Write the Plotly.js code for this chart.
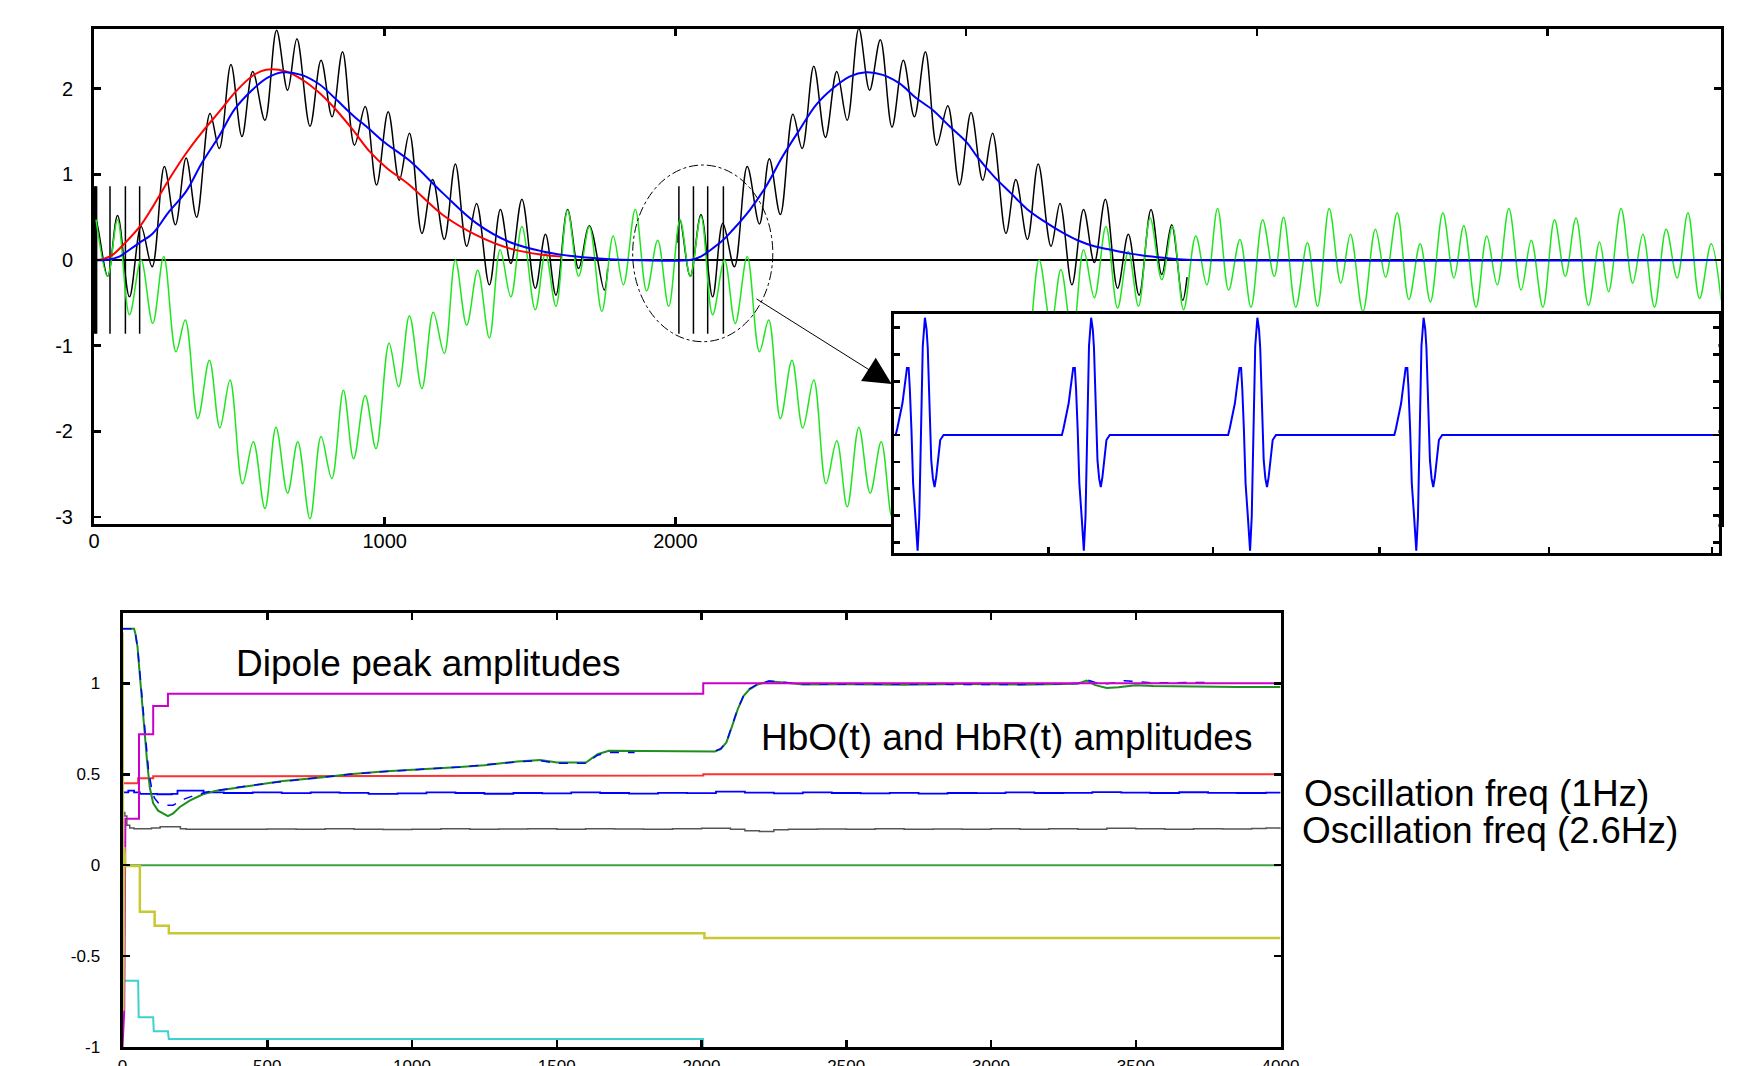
<!DOCTYPE html>
<html>
<head>
<meta charset="utf-8">
<script src="https://cdn.plot.ly/plotly-3.0.1.min.js"></script>
<style>html,body{margin:0;padding:0;background:#fff;}#chart{width:1760px;height:1066px;}</style>
</head>
<body>
<div id="chart"></div>
<script>
// ---------------- TOP PANEL: simulated signals ----------------
// black: measured signal (HbO + oscillations), read peak/trough values
const blackX = [0,7,47,81,122,162,200,242,280,317,353,399,431,471,509,546,588,628,666,698,743,781,819,855,896,933,972,1012,1050,1085,1128,1165,1205,1243,1282,1316,1360,1398,1434,1472,1518,1553,1589,1629,1667,1704,1755,1767,
  null,
  2005,2016,2051,2088,2128,2163,2203,2247,2289,2323,2361,2404,2436,2476,2516,2555,2591,2631,2668,2705,2745,2784,2822,2860,2899,2937,2977,3017,3057,3091,3137,3171,3211,3248,3292,3323,3364,3404,3441,3479,3521,3558,3595,3636,3673,3707,3745,3760];
const blackY = [0.1,0.47,-0.19,0.52,-0.43,0.39,-0.08,1.09,0.41,1.19,0.50,1.71,1.30,2.28,1.44,2.20,1.63,2.68,1.98,2.58,1.56,2.33,1.67,2.43,1.34,1.79,0.875,1.73,0.93,1.48,0.31,0.94,0.24,1.12,0.16,0.66,-0.29,0.59,-0.04,0.71,-0.33,0.30,-0.41,0.59,-0.10,0.40,-0.35,-0.1,
  null,
  0.2,0.47,-0.19,0.53,-0.43,0.43,-0.08,1.09,0.42,1.18,0.53,1.70,1.30,2.26,1.43,2.20,1.63,2.70,1.98,2.57,1.55,2.33,1.67,2.43,1.34,1.80,0.875,1.72,0.93,1.48,0.31,0.94,0.24,1.12,0.16,0.66,-0.29,0.59,-0.03,0.71,-0.33,0.30,-0.41,0.59,-0.17,0.41,-0.47,-0.2];
// dipole spikes in the black signal
const spikeX = [2,5,9,55,108,157,2012,2062,2111,2165];
const spikeLow = -0.86, spikeHigh = 0.86;

// green: HbR-like signal with oscillations
const greenX = [7,47,81,122,162,202,240,282,314,357,397,433,468,511,548,588,626,666,701,743,781,818,858,893,933,970,1015,1048,1085,1128,1167,1205,1243,1282,1320,1360,1397,1434,1472,1518,1553,1589,1629,1667,1704,1747,1786,1821,1862,1901,1939,1977,
  2016,2051,2088,2128,2169,2206,2247,2289,2321,2361,2401,2438,2476,2518,2555,2591,2631,2670,2708,2745,2783,2820,2860,2895,2935,2972,3017,3050,3087,3130,3169,3208,
  3251,3292,3326,3366,3404,3441,3481,3521,3558,3593,3633,3673,3710,3748,3790,3828,3865,3903,3942,3980,4020,4060,4092,4134,4174,4209,4249,4289,4322,
  4365,4408,4443,4483,4523,4562,4597,4640,4678,4712,4754,4791,4827,4867,4909,4944,4984,5024,5061,5098,5141,5179,5210,5253,5293,5328,5368,5408,5446,5483,5523,5563,5597];
const greenY = [0.47,-0.19,0.47,-0.64,0.0,-0.74,0.04,-1.07,-0.70,-1.85,-1.17,-1.96,-1.40,-2.61,-2.12,-2.90,-1.95,-2.72,-2.12,-3.02,-2.06,-2.55,-1.52,-2.32,-1.58,-2.20,-0.97,-1.48,-0.65,-1.50,-0.61,-1.09,0.0,-0.76,-0.12,-0.91,0.12,-0.43,0.39,-0.58,0.08,-0.54,0.58,-0.19,0.39,-0.60,0.28,-0.29,0.59,-0.36,0.23,-0.54,
  0.47,-0.19,0.51,-0.64,0.0,-0.74,0.04,-1.07,-0.70,-1.85,-1.17,-1.96,-1.40,-2.61,-2.11,-2.88,-1.95,-2.72,-2.12,-3.0,-2.06,-2.55,-1.52,-2.32,-1.58,-2.20,-0.97,-1.48,-0.65,-1.50,-0.61,-1.09,
  0.0,-0.76,-0.11,-0.91,0.12,-0.44,0.39,-0.56,0.10,-0.54,0.49,-0.23,0.39,-0.58,0.28,-0.29,0.60,-0.35,0.24,-0.55,0.47,-0.19,0.50,-0.55,0.20,-0.54,0.60,-0.27,0.30,
  -0.6,0.36,-0.2,0.55,-0.46,0.19,-0.49,0.55,-0.21,0.40,-0.55,0.28,-0.29,0.60,-0.35,0.23,-0.55,0.47,-0.19,0.49,-0.53,0.21,-0.37,0.60,-0.27,0.30,-0.55,0.36,-0.21,0.55,-0.45,0.19,-0.47];

// red: first hemodynamic response
const redX = [0,30,60,110,160,202,260,317,374,431,489,546,592,661,718,775,833,890,947,1005,1085,1200,1315,1429,1544,1607];
const redY = [0,0.01,0.05,0.21,0.4,0.62,0.95,1.245,1.5,1.73,1.97,2.15,2.22,2.2,2.1,1.95,1.75,1.52,1.27,1.08,0.875,0.525,0.29,0.136,0.06,0.04];

// blue: estimated HbO response
const blueX = [0,41,87,122,156,202,255,317,369,431,484,546,599,649,713,775,828,890,943,1000,1085,1200,1315,1429,1544,1659,1774,1850,2050,2087,2122,2163,2197,2255,2312,2369,2427,2484,2541,2599,2656,2713,2771,2828,2885,2943,3000,3039,3097,3154,3211,3269,3326,3383,3441,3498,3555,3613,3670,3727,3785,5595];
const blueY = [0,0,0.04,0.12,0.2,0.31,0.55,0.8,1.12,1.45,1.76,1.99,2.13,2.19,2.16,2.05,1.89,1.69,1.54,1.37,1.16,0.78,0.43,0.21,0.1,0.04,0.01,0,0,0.04,0.12,0.23,0.35,0.58,0.86,1.21,1.52,1.81,2.0,2.14,2.19,2.16,2.06,1.89,1.75,1.56,1.38,1.2,0.97,0.78,0.59,0.45,0.33,0.23,0.16,0.12,0.08,0.05,0.03,0.01,0,0];
const topYTicks = [-3,-2,-1,0,1,2];
const topYText = ['-3','-2','-1','0','1','2'];

// inset: dipole waveform (4 spikes)
const insetX = [0,0.010,0.041,0.051,0.068,0.078,0.085,0.095,0.105,0.119,0.132,0.142,0.153,0.163,0.176,0.186,0.193,0.203,0.214,0.224,0.234,0.244,0.254,0.268,0.288,
  1.000,1.010,1.041,1.051,1.068,1.078,1.085,1.095,1.105,1.119,1.132,1.142,1.153,1.163,1.176,1.186,1.193,1.203,1.214,1.224,1.234,1.244,1.254,1.268,1.288,
  2.000,2.010,2.041,2.051,2.068,2.078,2.085,2.095,2.105,2.119,2.132,2.142,2.153,2.163,2.176,2.186,2.193,2.203,2.214,2.224,2.234,2.244,2.254,2.268,2.288,
  3.000,3.010,3.041,3.051,3.068,3.078,3.085,3.095,3.105,3.119,3.132,3.142,3.153,3.163,3.176,3.186,3.193,3.203,3.214,3.224,3.234,3.244,3.254,3.268,3.288,
  4.95];
const insetY = [0,0.25,1.19,1.69,2.5,2.5,1.75,0.19,-1.81,-3.06,-4.31,-3.06,1.06,3.31,4.37,3.93,3.25,1.06,-0.94,-1.62,-1.94,-1.56,-0.94,-0.19,0,
  0,0.25,1.19,1.69,2.5,2.5,1.75,0.19,-1.81,-3.06,-4.31,-3.06,1.06,3.31,4.37,3.93,3.25,1.06,-0.94,-1.62,-1.94,-1.56,-0.94,-0.19,0,
  0,0.25,1.19,1.69,2.5,2.5,1.75,0.19,-1.81,-3.06,-4.31,-3.06,1.06,3.31,4.37,3.93,3.25,1.06,-0.94,-1.62,-1.94,-1.56,-0.94,-0.19,0,
  0,0.25,1.19,1.69,2.5,2.5,1.75,0.19,-1.81,-3.06,-4.31,-3.06,1.06,3.31,4.37,3.93,3.25,1.06,-0.94,-1.62,-1.94,-1.56,-0.94,-0.19,0,
  0];
const insetTicks = [0.92,1.91,2.91,3.93,4.91];

// ---------------- BOTTOM PANEL: estimated amplitudes ----------------
const hboGreenX = [0,40,45,52,58,64,70,77,85,94,106,123,146,157,175,198,232,278,324,439,554,669,784,899,1014,1117,1166,1250,1364,1443,1502,1601,1641,1680,1760,2046,2066,2086,2106,2125,2145,2165,2194,2234,2273,2352,2500,2700,2900,3100,3300,3330,3360,3400,3440,3500,3560,3700,3850,4000];
const hboGreenY = [1.30,1.30,1.27,1.2,1.08,0.95,0.87,0.72,0.57,0.43,0.34,0.30,0.28,0.27,0.285,0.32,0.355,0.39,0.41,0.436,0.463,0.48,0.50,0.515,0.525,0.535,0.54,0.55,0.57,0.578,0.565,0.565,0.61,0.629,0.629,0.625,0.638,0.675,0.766,0.857,0.93,0.966,0.994,1.012,1.006,0.994,0.995,0.993,0.996,0.993,0.998,1.015,0.99,0.975,0.978,0.99,0.985,0.982,0.98,0.98];
const hboBlueX = [0,40,46,53,60,67,74,82,90,100,110,125,150,175,192,215,250,300,325,440,554,669,784,899,1014,1117,1166,1250,1364,1443,1502,1601,1641,1680,1769,null,2050,2066,2086,2106,2125,2145,2165,2194,2234,2273,2352,2500,2700,2900,3100,3300,3330,3360,3400,3440,3460,3500,3560,3753];
const hboBlueY = [1.30,1.30,1.26,1.18,1.06,0.93,0.82,0.66,0.52,0.43,0.37,0.34,0.33,0.33,0.345,0.365,0.385,0.405,0.41,0.438,0.46,0.482,0.50,0.514,0.527,0.536,0.54,0.552,0.568,0.575,0.56,0.56,0.605,0.62,0.62,null,0.63,0.64,0.675,0.77,0.86,0.93,0.97,0.995,1.013,1.007,0.996,0.995,0.996,0.997,0.994,1.0,1.02,1.005,0.998,1.005,1.015,1.01,1.003,1.005];
const grayX = [0,8,15,25,40,100,130,180,200,220,300,400,500,600,700,800,900,1000,1100,1200,1300,1400,1500,1600,1700,1800,1900,2000,2100,2150,2200,2250,2300,2400,2500,2600,2700,2800,2900,3000,3100,3200,3300,3400,3500,3600,3700,3800,3900,3950,4000];
const grayY = [0.29,0.27,0.22,0.205,0.2,0.205,0.212,0.212,0.2,0.197,0.198,0.197,0.199,0.197,0.2,0.198,0.196,0.198,0.2,0.197,0.199,0.2,0.198,0.201,0.199,0.197,0.2,0.203,0.198,0.19,0.185,0.195,0.197,0.199,0.197,0.2,0.197,0.199,0.198,0.2,0.197,0.2,0.198,0.203,0.2,0.198,0.201,0.199,0.202,0.205,0.198];
const osc1X = [0,20,40,60,120,170,190,260,280,350,450,550,650,750,850,950,1050,1150,1250,1350,1450,1550,1650,1750,1850,1950,2050,2150,2250,2350,2450,2550,2650,2750,2850,2950,3050,3150,3250,3350,3450,3550,3650,3750,3850,3950,4000];
const osc1Y = [0.40,0.41,0.40,0.392,0.39,0.392,0.41,0.41,0.40,0.397,0.4,0.396,0.4,0.398,0.392,0.395,0.4,0.397,0.393,0.397,0.395,0.4,0.397,0.394,0.398,0.396,0.405,0.399,0.395,0.4,0.397,0.395,0.398,0.394,0.397,0.396,0.4,0.397,0.398,0.402,0.399,0.397,0.401,0.398,0.397,0.399,0.398];
const redAmpX = [0,54,54,106,106,155,155,2006,2006,4000];
const redAmpY = [0.451,0.451,0.478,0.478,0.489,0.489,0.493,0.493,0.5,0.5];
const magX = [0,6,10,57,57,106,106,157,157,2006,2006,4000];
const magY = [-1.0,-0.8,0.256,0.256,0.72,0.72,0.875,0.875,0.943,0.943,1.0,1.0];
const yelX = [0,3,6,10,60,60,111,111,160,160,2010,2010,4000];
const yelY = [1.28,-0.8,0.1,-0.005,-0.005,-0.256,-0.256,-0.333,-0.333,-0.374,-0.374,-0.401,-0.401];
const cyanX = [5,54,56,106,108,157,160,2005,2005];
const cyanY = [-0.636,-0.636,-0.837,-0.837,-0.914,-0.914,-0.956,-0.956,-1.0];
const zeroX = [0,4000];
const zeroY = [0,0];
const botYTicks = [-1,-0.5,0,0.5,1];
const botYText = ['-1','-0.5','0','0.5','1'];

// build spike segments
const sx = [], sy = [];
spikeX.forEach(v => { sx.push(v, v, null); sy.push(spikeLow, spikeHigh, null); });

const W = 1760, H = 1066;
const px = v => v / W, py = v => 1 - v / H;
const FONT = 'Liberation Sans, Arial, sans-serif';

const traces = [
  {x: sx, y: sy, xaxis:'x', yaxis:'y', mode:'lines', line:{color:'#000', width:1.5}},
  {x: blackX, y: blackY, xaxis:'x', yaxis:'y', mode:'lines', line:{color:'#000', width:1.5, shape:'spline', smoothing:1}},
  {x: greenX, y: greenY, xaxis:'x', yaxis:'y', mode:'lines', line:{color:'#1ee61e', width:1.5, shape:'spline', smoothing:1}},
  {x: redX, y: redY, xaxis:'x', yaxis:'y', mode:'lines', line:{color:'#ff0000', width:2, shape:'spline'}},
  {x: blueX, y: blueY, xaxis:'x', yaxis:'y', mode:'lines', line:{color:'#0000ff', width:2, shape:'spline'}},

  {x: zeroX, y: zeroY, xaxis:'x2', yaxis:'y2', mode:'lines', line:{color:'#3fa03f', width:2}},
  {x: cyanX, y: cyanY, xaxis:'x2', yaxis:'y2', mode:'lines', line:{color:'#40d0d0', width:2}},
  {x: grayX, y: grayY, xaxis:'x2', yaxis:'y2', mode:'lines', line:{color:'#555555', width:1.5, shape:'hv'}},
  {x: osc1X, y: osc1Y, xaxis:'x2', yaxis:'y2', mode:'lines', line:{color:'#0000ff', width:1.8, shape:'hv'}},
  {x: redAmpX, y: redAmpY, xaxis:'x2', yaxis:'y2', mode:'lines', line:{color:'#ff3030', width:2}},
  {x: hboGreenX, y: hboGreenY, xaxis:'x2', yaxis:'y2', mode:'lines', line:{color:'#1f8f1f', width:2}},
  {x: hboBlueX, y: hboBlueY, xaxis:'x2', yaxis:'y2', mode:'lines', line:{color:'#0000ff', width:1.5, dash:'dash'}},
  {x: magX, y: magY, xaxis:'x2', yaxis:'y2', mode:'lines', line:{color:'#cc00cc', width:2}},
  {x: yelX, y: yelY, xaxis:'x2', yaxis:'y2', mode:'lines', line:{color:'#c8c832', width:2.5}},

  {x: insetX, y: insetY, xaxis:'x3', yaxis:'y3', mode:'lines', line:{color:'#0000ff', width:2}}
];

const axBase = {
  showgrid:false, zeroline:false, showline:true, linecolor:'#000', linewidth:3,
  mirror:'allticks', ticks:'inside', ticklen:7, tickwidth:2.5, tickcolor:'#000',
  tickfont:{family:FONT, size:20, color:'#000'}
};

const layout = {
  width: W, height: H, margin:{l:0,r:0,t:0,b:0},
  paper_bgcolor:'#fff', plot_bgcolor:'#fff', showlegend:false,
  xaxis: Object.assign({}, axBase, {domain:[px(94), px(1720.5)], range:[0,5595], dtick:1000, tick0:0, anchor:'y', ticklabelstandoff:-3}),
  yaxis: Object.assign({}, axBase, {domain:[py(524), py(29)], range:[-3.08,2.695], tickmode:'array', tickvals:topYTicks, ticktext:topYText, anchor:'x',
          zeroline:true, zerolinecolor:'#000', zerolinewidth:1.5, ticklabelstandoff:14}),
  xaxis2: Object.assign({}, axBase, {domain:[px(122.5), px(1280.5)], range:[0,4000], dtick:500, tick0:0, anchor:'y2',
          ticklabelstandoff:2, tickfont:{family:FONT, size:17, color:'#000'}}),
  yaxis2: Object.assign({}, axBase, {domain:[py(1047), py(613)], range:[-1,1.387], tickmode:'array', tickvals:botYTicks, ticktext:botYText, anchor:'x2',
          ticklabelstandoff:16, tickfont:{family:FONT, size:17, color:'#000'}}),
  xaxis3: Object.assign({}, axBase, {domain:[px(894), px(1718.5)], range:[-0.01,4.95], tickmode:'array', tickvals:insetTicks,
          showticklabels:false, mirror:true, ticklen:6, anchor:'y3'}),
  yaxis3: Object.assign({}, axBase, {domain:[py(553), py(314)], range:[-4.40,4.51], dtick:1, tick0:0, showticklabels:false,
          ticklen:6, anchor:'x3'}),
  shapes: [
    {type:'circle', xref:'x', yref:'y', x0:1853, x1:2335, y0:-0.953, y1:1.108,
     line:{color:'#000', width:1, dash:'dashdot'}, layer:'above'}
  ],
  annotations: [
    {xref:'paper', yref:'paper', x:px(891.7), y:py(384), ax:-136.7, ay:-86, axref:'pixel', ayref:'pixel',
     text:'', showarrow:true, arrowhead:2, arrowsize:5.5, arrowwidth:1, arrowcolor:'#000', standoff:0},
    {xref:'paper', yref:'paper', x:px(233.5), y:py(663.5), xanchor:'left', yanchor:'middle', showarrow:false,
     text:'Dipole peak amplitudes', font:{family:FONT, size:37, color:'#000'}},
    {xref:'paper', yref:'paper', x:px(758.8), y:py(737.4), xanchor:'left', yanchor:'middle', showarrow:false,
     text:'HbO(t) and HbR(t) amplitudes', font:{family:FONT, size:37, color:'#000'}},
    {xref:'paper', yref:'paper', x:px(1302), y:py(793.5), xanchor:'left', yanchor:'middle', showarrow:false,
     text:'Oscillation freq (1Hz)', font:{family:FONT, size:37, color:'#000'}},
    {xref:'paper', yref:'paper', x:px(1300), y:py(830.6), xanchor:'left', yanchor:'middle', showarrow:false,
     text:'Oscillation freq (2.6Hz)', font:{family:FONT, size:37, color:'#000'}}
  ]
};

Plotly.newPlot('chart', traces, layout, {staticPlot:true, displayModeBar:false});
</script>
</body>
</html>
